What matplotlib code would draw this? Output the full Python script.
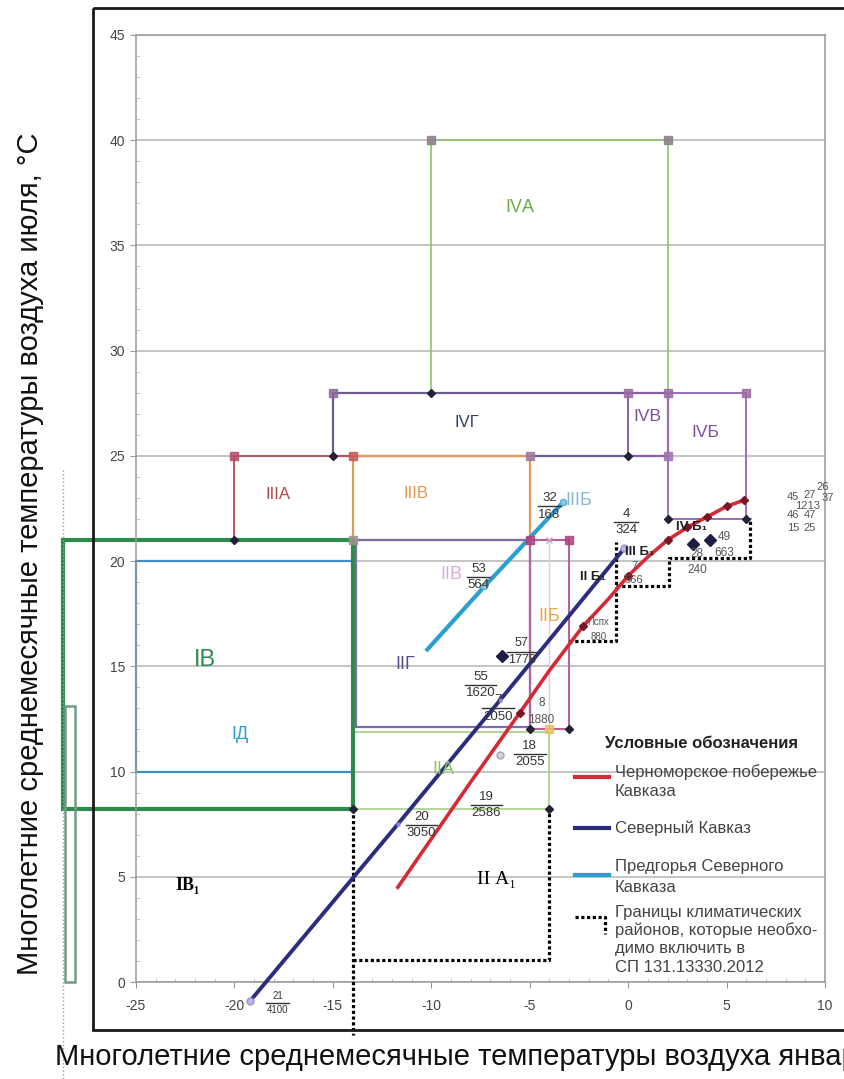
import matplotlib
matplotlib.use("Agg")
import matplotlib.pyplot as plt
import matplotlib.transforms as mtransforms
from matplotlib.patches import Rectangle
from matplotlib.lines import Line2D
from matplotlib.ticker import MultipleLocator

plt.rcParams["font.family"] = ["Liberation Sans", "DejaVu Sans"]
plt.rcParams["axes.unicode_minus"] = False

W, H = 845, 1079

# climatic zones: bounds in January / July mean temperature
zone_names = ["IVА", "IVГ", "IVВ", "IVБ", "IIIА", "IIIВ", "IIВ", "IIБ", "IIА", "IД", "IВ"]
zone_jan_lo = [-10, -15, 0, 2, -20, -14, -13.8, -5, -14, -25, -28.7]
zone_jan_hi = [2, 2, 2, 6, -14, -5, -5, -3, -4, -14, -14]
zone_jul_lo = [28, 25, 25, 22, 21, 21, 12.1, 12, 8.2, 10, 8.2]
zone_jul_hi = [40, 28, 28, 28, 25, 25, 21, 21, 11.9, 20, 21]
zone_colors = ["#8dc46c", "#6b5b8e", "#8a5fa8", "#9a6fb8", "#b9545a", "#e39a5b",
               "#7c6db0", "#b8609a", "#a3d084", "#3d8fc4", "#2f8a4e"]
zone_widths = [1.2, 1.6, 1.4, 1.4, 1.4, 1.6, 1.6, 1.5, 1.2, 1.6, 3.0]

# regional curves
black_sea_jan = [-11.7, -8.0, -5.5, -4.0, -2.3, -1.0, 0.0, 1.0, 2.0, 3.0, 4.0, 5.0, 5.9]
black_sea_jul = [4.5, 9.5, 12.8, 14.8, 16.9, 18.2, 19.3, 20.2, 21.0, 21.6, 22.1, 22.6, 22.9]
north_jan = [-19.2, -11.7, -6.5, -0.2]
north_jul = [-0.9, 7.5, 13.4, 20.6]
foothills_jan = [-10.2, -7.3, -3.3]
foothills_jul = [15.8, 18.8, 22.8]

# zone corner points
square_jan = [-10, 2, 2, 0, 6, -15, -20, -14, -5, 2, -5, -3, -14, -4]
square_jul = [40, 40, 28, 28, 28, 28, 25, 25, 25, 25, 21, 21, 21, 12]
square_cols = ["#8b7b8b", "#8b7b8b", "#9a6aa0", "#9a6aa0", "#9a6aa0", "#8a6a9a", "#b54a6a",
               "#c05a5a", "#9a7aa0", "#a070b0", "#b0407a", "#b0407a", "#a09090", "#e8c060"]
diamond_jan = [-10, -15, -20, 0, 2, 6, -5, -3, -14, -4]
diamond_jul = [28, 25, 21, 25, 22, 22, 12, 12, 8.2, 8.2]

# weather stations
station_jan = [-6.4, 3.3, 4.15]
station_jul = [15.5, 20.8, 21.0]

# boundaries proposed for СП 131.13330.2012
border_paths = [
    ([-14, -14], [8.2, -2.5]),
    ([-14, -4, -4], [1.05, 1.05, 8.2]),
    ([-3, -0.6, -0.6], [16.2, 16.2, 20.9]),
    ([-0.6, 2.1, 2.1, 6.2, 6.2], [18.8, 18.8, 20.15, 20.15, 22.05]),
]

fig = plt.figure(figsize=(W / 100, H / 100), dpi=100)
ax = fig.add_axes([136 / W, 1 - 982 / H, (825 - 136) / W, (982 - 35) / H])
px = mtransforms.Affine2D().scale(1 / W, -1 / H).translate(0, 1) + fig.transFigure
ax.set_xlim(-25, 10)
ax.set_ylim(0, 45)

ax.xaxis.set_major_locator(MultipleLocator(5))
ax.xaxis.set_minor_locator(MultipleLocator(1))
ax.yaxis.set_major_locator(MultipleLocator(5))
ax.yaxis.set_minor_locator(MultipleLocator(1))
ax.tick_params(which="major", direction="out", length=4, color="#999999",
               labelsize=10, labelcolor="#444444")
ax.tick_params(axis="x", which="major", pad=8)
ax.tick_params(axis="y", which="major", pad=4)
ax.tick_params(which="minor", direction="in", length=3, color="#bbbbbb")
ax.grid(axis="y", which="major", color="#b4b4b4", lw=1.1)
ax.set_axisbelow(True)
for s in ax.spines.values():
    s.set_color("#999999")
    s.set_linewidth(1.1)

for i in range(len(zone_names)):
    ax.add_patch(Rectangle((zone_jan_lo[i], zone_jul_lo[i]),
                           zone_jan_hi[i] - zone_jan_lo[i], zone_jul_hi[i] - zone_jul_lo[i],
                           fill=False, ec=zone_colors[i], lw=zone_widths[i], zorder=2,
                           clip_on=False))
ax.add_patch(Rectangle((-28.6, 0), 0.5, 13.1, fill=False, ec="#6f9c82", lw=1.8,
                       clip_on=False, zorder=2))
ax.plot([-4, -4], [12, 21], color="#ecc6dc", lw=1, zorder=2)
ax.plot([-4], [21], marker="x", ms=5, color="#d0a0c0", zorder=6)

for xs, ys in border_paths:
    ax.plot(xs, ys, color="black", lw=2.3, ls=(0, (1, 0.8)), zorder=3, clip_on=False)

ax.plot(north_jan, north_jul, color="#2b2d7c", lw=2.8, zorder=5, clip_on=False)
ax.plot([north_jan[0], north_jan[-1]], [north_jul[0], north_jul[-1]], "o", ms=5,
        mfc="#bdb6e4", mec="#9e96cc", zorder=6, clip_on=False)
ax.plot(north_jan[1:3], north_jul[1:3], "s", ms=3.5, mfc="#8a86d0", mec="none", zorder=6)
ax.plot(black_sea_jan, black_sea_jul, color="#d42a36", lw=2.6, zorder=5,
        marker="D", ms=4, mfc="#7a1424", mec="#7a1424", markevery=[2, 4, 6, 8, 9, 10, 11, 12])
ax.plot(foothills_jan, foothills_jul, color="#2a9fd0", lw=3, zorder=5)
ax.plot([foothills_jan[1], foothills_jan[-1]], [foothills_jul[1], foothills_jul[-1]], "o",
        ms=4.5, mfc="#8ccbe8", mec="#5ab0d8", zorder=6)

for x, y, c in zip(square_jan, square_jul, square_cols):
    ax.plot(x, y, "s", ms=6, mfc=c, mec=c, alpha=0.85, zorder=6)
ax.plot(diamond_jan, diamond_jul, "D", ms=4.5, color="#222233", ls="none", zorder=6)
ax.plot(station_jan, station_jul, "D", ms=6, color="#1c1c44", ls="none", zorder=6)
ax.plot([-6.5], [10.8], "o", ms=5, mfc="#d8d0e0", mec="#a8a0b8", zorder=6)

# zone names
zone_labels = [
    ("IVА", -5.5, 36.8, "#6aad45", 13),
    ("IVГ", -8.2, 26.6, "#2f3d6e", 12),
    ("IVВ", 1.0, 26.85, "#7c4f9c", 12.5),
    ("IVБ", 3.9, 26.1, "#7c4f9c", 12.5),
    ("IIIА", -17.8, 23.15, "#b5464e", 12),
    ("IIIВ", -10.8, 23.2, "#e3944e", 12),
    ("IIIБ", -2.5, 22.9, "#86b8de", 13),
    ("IIВ", -9.0, 19.35, "#dcaadc", 13),
    ("IIГ", -11.3, 15.1, "#52528e", 13),
    ("IIБ", -4.0, 17.35, "#e8a846", 13),
    ("IIА", -9.4, 10.1, "#8cc266", 13),
    ("IВ", -21.5, 15.3, "#2f8a4e", 17),
    ("IД", -19.7, 11.75, "#2aa0cc", 13),
]
for s, x, y, c, fs in zone_labels:
    ax.text(x, y, s, color=c, fontsize=fs, ha="center", va="center", zorder=7)

for s, x, y in [("II Б₁", -1.8, 19.25), ("III Б₁", 0.6, 20.45), ("IV Б₁", 3.2, 21.6)]:
    ax.text(x, y, s, fontsize=9.5, fontweight="bold", color="#222222",
            ha="center", va="center", zorder=7)
ax.text(-22.4, 4.6, "IВ₁", family=["Liberation Serif", "DejaVu Serif"], fontsize=13,
        fontweight="bold", ha="center", va="center", zorder=7)
ax.text(-6.7, 4.85, "II А₁", family=["Liberation Serif", "DejaVu Serif"], fontsize=14,
        ha="center", va="center", zorder=7)

# station number / elevation
fracs = [
    ("32", "168", -4.0, 22.6, 9.5, True),
    ("53", "564", -7.6, 19.25, 9.5, True),
    ("57", "1778", -5.4, 15.7, 9, True),
    ("55", "1620", -7.5, 14.1, 9.5, True),
    ("7", "2050", -6.6, 13.0, 9.5, True),
    ("8", "1880", -4.4, 12.85, 8.5, False),
    ("18", "2055", -5.0, 10.85, 9.5, True),
    ("19", "2586", -7.2, 8.4, 9.5, True),
    ("20", "3050", -10.5, 7.45, 9.5, True),
    ("21", "4100", -17.8, -1.0, 7, True),
    ("4", "324", -0.1, 21.85, 9.5, True),
    ("7", "566", 0.3, 19.45, 8, False),
    ("28", "240", 3.5, 19.95, 8.5, False),
    ("49", "663", 4.9, 20.75, 8.5, False),
    ("Пспх", "880", -1.5, 16.75, 7, False),
]
unit_px = (825 - 136) / 35
for num, den, x, y, fs, bar in fracs:
    col = "#333333" if bar else "#555555"
    ax.text(x, y + 0.1, num, ha="center", va="bottom", fontsize=fs, color=col, zorder=7)
    ax.text(x, y - 0.1, den, ha="center", va="top", fontsize=fs, color=col, zorder=7)
    if bar:
        half = len(den) * 0.3 * fs * 100 / 72 / unit_px
        ax.plot([x - half, x + half], [y, y], color=col, lw=1, zorder=7, clip_on=False)

cluster = [("45", 8.37, 23.05), ("27", 9.23, 23.15), ("26", 9.89, 23.53), ("37", 10.14, 23.0),
           ("1213", 9.13, 22.62), ("46", 8.37, 22.2), ("47", 9.23, 22.2),
           ("15", 8.37, 21.58), ("25", 9.23, 21.58)]
for s, x, y in cluster:
    ax.text(x, y, s, fontsize=8, color="#555555", ha="center", va="center", zorder=7)

# legend
fig.text(605, 743, "Условные обозначения", transform=px, fontsize=12, fontweight="bold",
         color="#222222", va="center")
legend_rows = [
    ("#d42a36", 777, ["Черноморское побережье", "Кавказа"], 772),
    ("#2b2d7c", 828, ["Северный Кавказ"], 828),
    ("#2a9fd0", 875, ["Предгорья Северного", "Кавказа"], 867),
]
for col, ly, lines, ty in legend_rows:
    fig.add_artist(Line2D([575, 609], [ly, ly], transform=px, color=col, lw=3))
    for k, s in enumerate(lines):
        fig.text(615, ty + 20 * k, s, transform=px, fontsize=12, color="#444444", va="center")
fig.add_artist(Line2D([575, 605, 605], [917, 917, 934], transform=px, color="black",
                      lw=2.3, ls=(0, (1, 0.8))))
for k, s in enumerate(["Границы климатических", "районов, которые необхо-",
                       "димо включить в", "СП 131.13330.2012"]):
    fig.text(615, 912 + 18.5 * k, s, transform=px, fontsize=12, color="#444444", va="center")

# outer frame and guide line
fig.add_artist(Rectangle((93, 8), 800, 1022, transform=px, fill=False, ec="#1a1a1a", lw=2))
fig.add_artist(Line2D([63, 63], [470, 1079], transform=px, color="#9a9a9a", lw=1, ls=":"))

fig.text(55, 1057, "Многолетние среднемесячные температуры воздуха января, °C", transform=px,
         fontsize=21, color="#111111", ha="left", va="center")
fig.text(30, 975, "Многолетние среднемесячные температуры воздуха июля, °C", transform=px,
         fontsize=21, color="#111111", rotation=90, rotation_mode="anchor",
         ha="left", va="center")

fig.savefig("out.png", dpi=100)
